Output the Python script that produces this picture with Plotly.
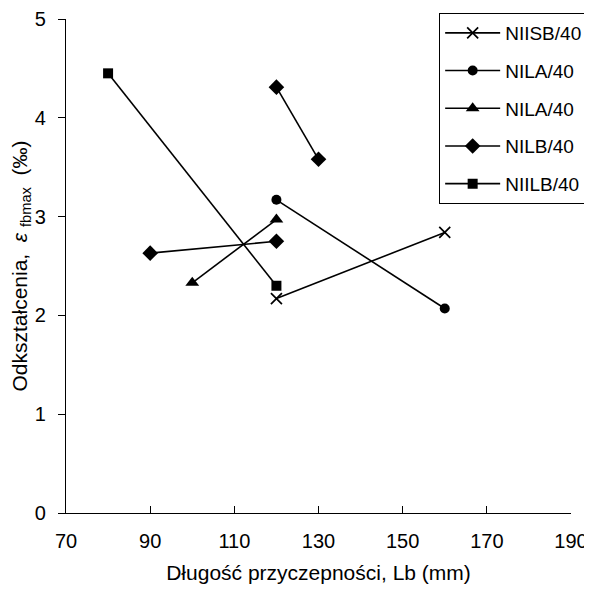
import plotly.graph_objects as go

# Data
names = ["NIISB/40", "NILA/40", "NILA/40", "NILB/40", "NIILB/40"]
x_niisb = [120, 160]
y_niisb = [2.17, 2.84]
x_nila_c = [120, 160]
y_nila_c = [3.17, 2.07]
x_nila_t = [100, 120]
y_nila_t = [2.33, 2.97]
x_nilb = [90, 120, None, 120, 130]
y_nilb = [2.63, 2.75, None, 4.31, 3.58]
x_niilb = [80, 120]
y_niilb = [4.45, 2.30]
x_ticks = [70, 90, 110, 130, 150, 170, 190]
y_ticks = [0, 1, 2, 3, 4, 5]

series = [
    (names[0], x_niisb, y_niisb, dict(symbol="x-thin", size=11, line=dict(width=1.7, color="black"))),
    (names[1], x_nila_c, y_nila_c, dict(symbol="circle", size=10)),
    (names[2], x_nila_t, y_nila_t, dict(symbol="triangle-up", size=12)),
    (names[3], x_nilb, y_nilb, dict(symbol="diamond", size=12)),
    (names[4], x_niilb, y_niilb, dict(symbol="square", size=10)),
]

fig = go.Figure()
for i, (n, xs, ys, mk) in enumerate(series):
    mk = dict(mk)
    mk["color"] = "black"
    fig.add_trace(go.Scatter(
        x=xs, y=ys, name=n, mode="lines+markers",
        line=dict(color="black", width=1.6),
        marker=mk, legendgroup="g%d" % i, connectgaps=False,
    ))

FONT = "Liberation Sans, Arial, sans-serif"
fig.update_layout(
    width=592, height=591,
    margin=dict(l=58, r=29, t=11, b=86, autoexpand=False),
    paper_bgcolor="white", plot_bgcolor="white",
    font=dict(family=FONT, size=20, color="black"),
    showlegend=True,
    legend=dict(
        xref="container", yref="container",
        x=0.980, xanchor="right", y=0.9915, yanchor="top",
        bordercolor="black", borderwidth=1, bgcolor="white",
        font=dict(size=19), tracegroupgap=10, itemwidth=55,
    ),
    xaxis=dict(
        range=[70, 190], tickvals=x_ticks, ticktext=[str(v) for v in x_ticks],
        showgrid=False, zeroline=False, showline=True, linecolor="black", linewidth=1.3,
        ticks="inside", ticklen=7, tickcolor="black", automargin=False,
        ticklabelstandoff=10,
        title=dict(text="Długość przyczepności, Lb (mm)", font=dict(size=21), standoff=14),
    ),
    yaxis=dict(
        range=[0, 5], tickvals=y_ticks,
        showgrid=False, zeroline=False, showline=True, linecolor="black", linewidth=1.3,
        ticks="outside", ticklen=7, tickcolor="black", automargin=False,
        ticklabelstandoff=8,
        title=dict(text="Odkształcenia,  <i>ε</i> <sub>fbmax</sub>  (‰)",
                   font=dict(size=21), standoff=4),
    ),
)

fig.write_html("out.html")
